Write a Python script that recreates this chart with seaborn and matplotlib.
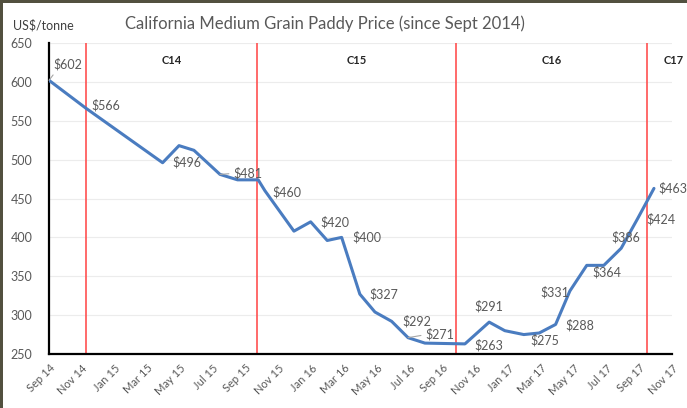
#California medium grain paddy price chart

import pandas as pd
import matplotlib.pyplot as plt
from matplotlib.patches import Rectangle
import seaborn as sns

#data: months since Sep 2014 and price in US$/tonne
months = [0, 2.26, 6.93, 7.93, 8.84, 10.43, 11.5, 12.76, 13.17, 14.94, 15.96, 16.97,
          17.85, 18.96, 19.88, 20.9, 21.9, 22.93, 25.37, 26.85, 27.8, 28.96, 29.9,
          30.9, 31.77, 32.8, 33.84, 34.9, 35.9, 36.9]
prices = [602, 566, 496, 518, 512, 481, 474, 474, 460, 408, 420, 396,
          400, 327, 304, 292, 271, 264, 263, 291, 280, 275, 277,
          288, 331, 364, 364, 386, 424, 463]

#which points carry a data label
label_idx = [0, 1, 2, 5, 8, 10, 12, 13, 15, 16, 18, 19, 21, 23, 24, 25, 27, 28, 29]

#crop year boundaries and names
season_starts = [2.26, 12.7, 24.8, 36.5]
season_names = ["C14", "C15", "C16", "C17"]

tick_labels = ["Sep 14", "Nov 14", "Jan 15", "Mar 15", "May 15", "Jul 15", "Sep 15",
               "Nov 15", "Jan 16", "Mar 16", "May 16", "Jul 16", "Sep 16", "Nov 16",
               "Jan 17", "Mar 17", "May 17", "Jul 17", "Sep 17", "Nov 17"]

df = pd.DataFrame({"month": months, "price": prices})

sns.set_style("white")
plt.rcParams['font.family'] = ['Lato', 'DejaVu Sans']

fig = plt.figure(figsize=(6.87, 4.08), dpi=100)
fig.patch.set_facecolor('#52503f')
fig.add_artist(Rectangle((3 / 687, 0), 1, 405 / 408, transform=fig.transFigure,
                         facecolor='white', edgecolor='none', zorder=-10))
ax = fig.add_axes([49 / 687, 54 / 408, 623 / 687, 311 / 408])

#gridlines
for v in range(250, 651, 50):
    ax.axhline(v, color='#ececec', lw=0.8, zorder=0)

#season lines
for s in season_starts:
    ax.axvline(s, color='#ff5050', lw=1.2, zorder=1)

sns.lineplot(data=df, x='month', y='price', color='#4a7cc0', lw=2.2, ax=ax, zorder=3)

#season names
for i, name in enumerate(season_names):
    if i + 1 < len(season_starts):
        xm = (season_starts[i] + season_starts[i + 1]) / 2
    else:
        xm = season_starts[i] + 1.6
    ax.text(xm, 628, name, ha='center', va='center', fontsize=8, fontweight='bold',
            color='#262626', clip_on=False)

#data labels (offsets in pixels)
offsets = {0: (19, 16), 1: (20, 3), 2: (24, 0), 5: (28, 1), 8: (22, -2), 10: (24, 0),
           12: (25, 0), 13: (24, 0), 15: (25, 0), 16: (32, 3), 18: (24, -1),
           19: (0, 16), 21: (21, -6), 23: (24, -1), 24: (-15, -1), 25: (20, -7),
           27: (5, 11), 28: (23, -1), 29: (19, 0)}
leaders = {0: (0.1, 0.0), 5: (0.0, 0.5), 16: (0.0, 0.5)}
for i in label_idx:
    dx, dy = offsets[i]
    kw = {}
    if i in leaders:
        kw['arrowprops'] = dict(arrowstyle='-', color='#a6a6a6', lw=0.8,
                                shrinkA=1, shrinkB=0, relpos=leaders[i])
    ax.annotate(f"${prices[i]}", (months[i], prices[i]), xytext=(dx, dy),
                textcoords='offset pixels', ha='center', va='center',
                fontsize=9, color='#595959', annotation_clip=False, zorder=4, **kw)

ax.set_xlim(0, 38)
ax.set_ylim(250, 650)
ax.set_xticks(range(0, 39, 2))
ax.set_xticklabels(tick_labels, rotation=45, ha='right', rotation_mode='anchor',
                   fontsize=8, color='#595959')
ax.set_yticks(range(250, 651, 50))
ax.tick_params(axis='y', labelsize=9, labelcolor='#595959', length=0, pad=12)
ax.tick_params(axis='x', length=0, pad=6)
ax.set_xlabel('')
ax.set_ylabel('')

sns.despine(ax=ax)
ax.spines['left'].set_color('black')
ax.spines['left'].set_linewidth(1.6)
ax.spines['bottom'].set_color('black')
ax.spines['bottom'].set_linewidth(1.6)

fig.text(13 / 687, 1 - 25 / 408, "US$/tonne", fontsize=9, color='#404040',
         ha='left', va='center')
fig.text(325 / 687, 1 - 24 / 408, "California Medium Grain Paddy Price (since Sept 2014)",
         fontsize=12, color='#595959', ha='center', va='center')

fig.savefig("out.png", dpi=100)
